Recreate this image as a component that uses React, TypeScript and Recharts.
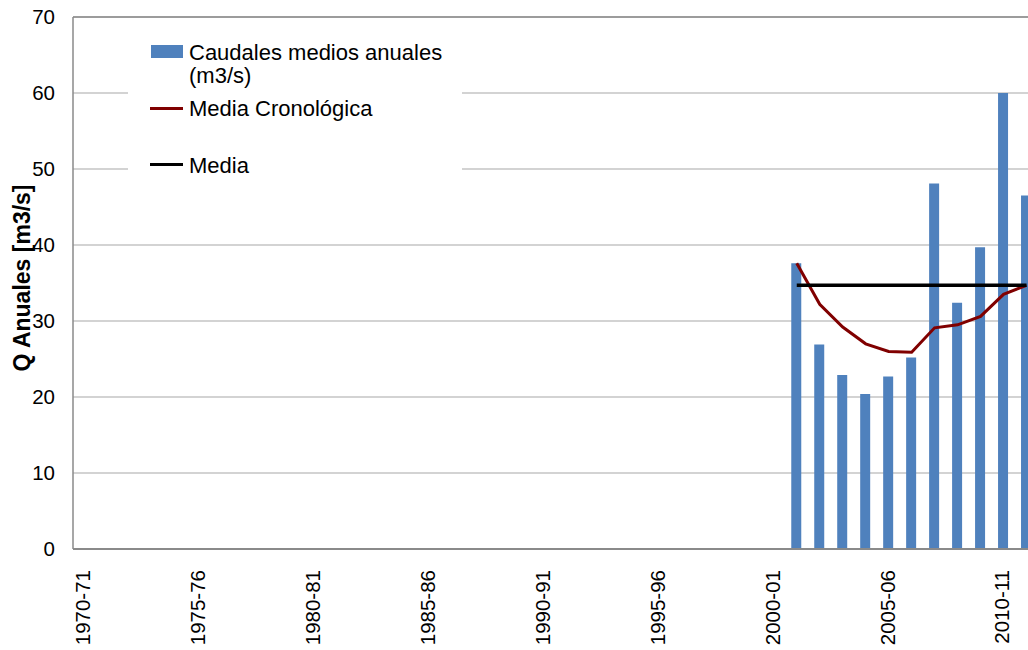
import React from "react";
import {
  ComposedChart,
  Bar,
  Line,
  XAxis,
  YAxis,
  CartesianGrid,
  Legend,
  ReferenceLine,
} from "recharts";

// hydrological years shown on the x axis
const years = [
  "1970-71", "1971-72", "1972-73", "1973-74", "1974-75", "1975-76", "1976-77",
  "1977-78", "1978-79", "1979-80", "1980-81", "1981-82", "1982-83", "1983-84",
  "1984-85", "1985-86", "1986-87", "1987-88", "1988-89", "1989-90", "1990-91",
  "1991-92", "1992-93", "1993-94", "1994-95", "1995-96", "1996-97", "1997-98",
  "1998-99", "1999-00", "2000-01", "2001-02", "2002-03", "2003-04", "2004-05",
  "2005-06", "2006-07", "2007-08", "2008-09", "2009-10", "2010-11", "2011-12",
];

// only 2001-02 onwards has data
const firstYear = "2001-02";
const caudales = [37.6, 26.9, 22.9, 20.4, 22.7, 25.2, 48.1, 32.4, 39.7, 60.0, 46.5];
const mediaCronologica = [37.6, 32.2, 29.2, 27.0, 26.0, 25.9, 29.1, 29.5, 30.6, 33.5, 34.7];
const media = [34.7, 34.7, 34.7, 34.7, 34.7, 34.7, 34.7, 34.7, 34.7, 34.7, 34.7];

const yTicks = [0, 10, 20, 30, 40, 50, 60, 70];

const start = years.indexOf(firstYear);
const data = years.map((year, i) => {
  const k = i - start;
  const has = k >= 0 && k < caudales.length;
  return {
    year,
    caudal: has ? caudales[k] : null,
    cron: has ? mediaCronologica[k] : null,
    media: has ? media[k] : null,
  };
});

const FONT = "'Liberation Sans', Arial, sans-serif";

const XTick = ({ x, y, payload }: any) => (
  <g transform={`translate(${x - 1.5},${y})`}>
    <text
      transform="rotate(-90)"
      textAnchor="end"
      dy="0.36em"
      fontSize={20.5}
      fill="#000"
      fontFamily={FONT}
    >
      {payload.value}
    </text>
  </g>
);

const YLabel = () => (
  <text
    transform="translate(22,278) rotate(-90)"
    textAnchor="middle"
    dominantBaseline="central"
    fontSize={23}
    fontWeight="bold"
    fill="#000"
    fontFamily={FONT}
  >
    Q Anuales [m3/s]
  </text>
);

const LegendBox = () => {
  const row: React.CSSProperties = {
    position: "absolute",
    left: 61,
    fontSize: 22,
    lineHeight: "23px",
    color: "#000",
    whiteSpace: "nowrap",
  };
  return (
    <div style={{ position: "relative", width: 334, height: 150, background: "#fff", fontFamily: FONT }}>
      <div style={{ position: "absolute", left: 23, top: 15, width: 32, height: 13, background: "#4f81bd" }} />
      <div style={{ ...row, top: 11 }}>
        Caudales medios anuales
        <br />
        (m3/s)
      </div>
      <div style={{ position: "absolute", left: 22, top: 77, width: 33, height: 3, background: "#800000" }} />
      <div style={{ ...row, top: 67 }}>Media Cronológica</div>
      <div style={{ position: "absolute", left: 22, top: 133, width: 33, height: 3, background: "#000" }} />
      <div style={{ ...row, top: 124 }}>Media</div>
    </div>
  );
};

export default function App() {
  return (
    <div
      style={{
        position: "fixed",
        left: 0,
        top: 0,
        width: 1028,
        height: 650,
        overflow: "hidden",
        background: "#fff",
        fontFamily: FONT,
      }}
    >
      <ComposedChart
        width={1045}
        height={650}
        data={data}
        margin={{ top: 17, right: 7, left: 0, bottom: 0 }}
        barCategoryGap="28%"
      >
        <CartesianGrid vertical={false} stroke="#c4c4c4" strokeWidth={1.5} />
        <ReferenceLine y={70} stroke="#8a8a8a" strokeWidth={1.5} />
        <XAxis
          dataKey="year"
          interval={4}
          height={101}
          tickSize={0}
          tickMargin={21}
          tickLine={false}
          axisLine={{ stroke: "#8a8a8a", strokeWidth: 2 }}
          tick={<XTick />}
        />
        <YAxis
          width={73}
          domain={[0, 70]}
          ticks={yTicks}
          interval={0}
          tickSize={0}
          tickMargin={18}
          tickLine={false}
          axisLine={{ stroke: "#8a8a8a", strokeWidth: 1.5 }}
          tick={{ fontSize: 20.5, fill: "#000", fontFamily: FONT }}
          label={YLabel}
        />
        <Legend
          layout="vertical"
          align="center"
          verticalAlign="middle"
          content={LegendBox}
          wrapperStyle={{ left: 128, top: 30, width: 334, height: 150 }}
        />
        <Bar dataKey="caudal" fill="#4f81bd" barSize={10} isAnimationActive={false} />
        <Line
          dataKey="cron"
          type="linear"
          stroke="#800000"
          strokeWidth={3}
          dot={false}
          isAnimationActive={false}
        />
        <Line
          dataKey="media"
          type="linear"
          stroke="#000"
          strokeWidth={3.5}
          dot={false}
          isAnimationActive={false}
        />
      </ComposedChart>
    </div>
  );
}
